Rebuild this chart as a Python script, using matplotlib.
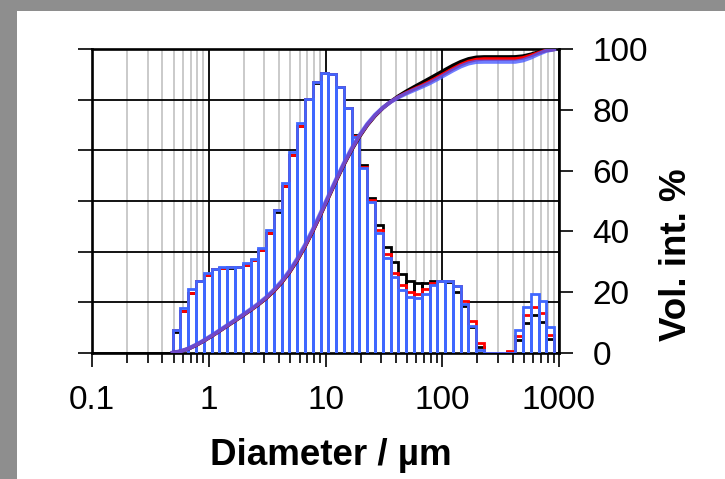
import numpy as np
import matplotlib
matplotlib.use("Agg")
import matplotlib.pyplot as plt
from matplotlib.patches import Rectangle
from matplotlib.ticker import NullFormatter, LogLocator

plt.rcParams['font.family'] = ['Liberation Sans', 'DejaVu Sans']

# channel edges (um), 49 channels
edges = [0.491, 0.5725, 0.6675, 0.7782, 0.9073, 1.0578, 1.2334, 1.438, 1.6766, 1.9548,
         2.2791, 2.6573, 3.0981, 3.6122, 4.2115, 4.9102, 5.7249, 6.6748, 7.7822, 9.0734,
         10.579, 12.334, 14.38, 16.766, 19.548, 22.791, 26.573, 30.981, 36.122, 42.115,
         49.102, 57.249, 66.748, 77.822, 90.734, 105.79, 123.34, 143.8, 167.66, 195.48,
         227.91, 265.73, 309.81, 361.22, 421.15, 491.02, 572.49, 667.48, 778.22, 907.34]

# frequency (%) per channel for the three measurements
q_black = [0.40, 0.83, 1.19, 1.42, 1.54, 1.65, 1.67, 1.67, 1.70, 1.74,
           1.83, 2.03, 2.36, 2.79, 3.30, 3.90, 4.48, 5.01, 5.33, 5.54,
           5.51, 5.26, 4.83, 4.30, 3.71, 3.05, 2.52, 2.10, 1.80, 1.56,
           1.42, 1.38, 1.38, 1.42, 1.42, 1.40, 1.21, 0.92, 0.51, 0.12,
           0.0, 0.0, 0.0, 0.02, 0.25, 0.58, 0.75, 0.61, 0.28]
q_red = [0.45, 0.83, 1.19, 1.42, 1.54, 1.65, 1.67, 1.70, 1.70, 1.74,
         1.83, 2.03, 2.36, 2.82, 3.30, 3.90, 4.48, 5.01, 5.36, 5.54,
         5.51, 5.26, 4.83, 4.28, 3.67, 3.02, 2.43, 1.95, 1.58, 1.34,
         1.21, 1.16, 1.25, 1.37, 1.42, 1.42, 1.31, 1.03, 0.62, 0.19,
         0.0, 0.0, 0.0, 0.03, 0.33, 0.75, 0.91, 0.79, 0.35]
q_blue = [0.45, 0.89, 1.26, 1.42, 1.58, 1.65, 1.70, 1.70, 1.70, 1.78,
          1.85, 2.08, 2.43, 2.82, 3.36, 3.96, 4.54, 5.01, 5.36, 5.54,
          5.51, 5.26, 4.83, 4.27, 3.65, 2.99, 2.36, 1.87, 1.50, 1.24,
          1.11, 1.09, 1.16, 1.34, 1.42, 1.42, 1.31, 0.96, 0.52, 0.05,
          0.0, 0.0, 0.0, 0.0, 0.44, 0.91, 1.17, 1.03, 0.50]

BLUE = '#3f67ff'
series = [(q_black, 'black'), (q_red, '#ff0000'), (q_blue, BLUE)]


def outline(h):
    xs, ys = [], []
    for k, v in enumerate(h):
        xs += [edges[k], edges[k], edges[k + 1], edges[k + 1]]
        ys += [0, v, v, 0]
    return xs, ys


def cumulative(h):
    c = np.concatenate([[0.0], np.cumsum(h)])
    return c / c[-1] * 100


fig = plt.figure(figsize=(7.25, 4.79), dpi=100)
fig.patch.set_facecolor('#8e8e8e')
fig.add_artist(Rectangle((17 / 725, 0), 1, 468 / 479, transform=fig.transFigure,
                         facecolor='white', edgecolor='none', zorder=-5))

ax = fig.add_axes([92 / 725, 1 - 352.7 / 479, 467 / 725, 303.4 / 479])
ax.set_xscale('log')
ax.set_xlim(0.1, 1000)
ax.set_ylim(0, 6)
ax.set_yticks(range(7))
ax.set_axisbelow(True)
ax.grid(which='major', axis='both', color='black', lw=1.3)
ax.grid(which='minor', axis='x', color='#cacaca', lw=1.4)
ax.xaxis.set_minor_locator(LogLocator(base=10, subs=np.arange(2, 10)))
ax.xaxis.set_minor_formatter(NullFormatter())
ax.set_xticks([0.1, 1, 10, 100, 1000], labels=['0.1', '1', '10', '100', '1000'])

# white fill under the tallest outline hides the grid inside the bars
env = np.maximum(np.maximum(q_black, q_red), q_blue)
ex, ey = outline(env)
ax.fill_between(ex, ey, color='white', zorder=1, lw=0)
for h, c in series:
    xs, ys = outline(h)
    ax.plot(xs, ys, color=c, lw=2, zorder=3, solid_joinstyle='miter')

ax.tick_params(axis='y', direction='out', length=10, width=1.2, labelleft=False)
ax.tick_params(axis='x', which='major', direction='out', length=10, width=1.2,
               labelsize=24, pad=13.5)
ax.tick_params(axis='x', which='minor', direction='out', length=7, width=1.2)
for s in ['left', 'top', 'bottom']:
    ax.spines[s].set_linewidth(1.9)
ax.spines['right'].set_visible(False)

ax2 = ax.twinx()
ax2.set_ylim(0, 100)
ax2.set_yticks(range(0, 101, 20))
ax2.tick_params(axis='y', direction='out', length=10, width=1.2, labelsize=24, pad=14)
for s in ['left', 'top', 'bottom']:
    ax2.spines[s].set_visible(False)
ax2.spines['right'].set_linewidth(1.9)

for h, c in series:
    if c == BLUE:
        ax2.plot(edges, cumulative(h), color='#4a5cff', lw=3, alpha=0.8)
    else:
        ax2.plot(edges, cumulative(h), color=c, lw=2.6)

ax.set_xlabel('Diameter / µm', fontsize=26.5, fontweight='bold')
ax.xaxis.set_label_coords(0.512, -0.28)
ax2.set_ylabel('Vol. int. %', fontsize=26.5, fontweight='bold')
ax2.yaxis.set_label_coords(1.215, 0.322)

fig.savefig('out.png', dpi=100)
